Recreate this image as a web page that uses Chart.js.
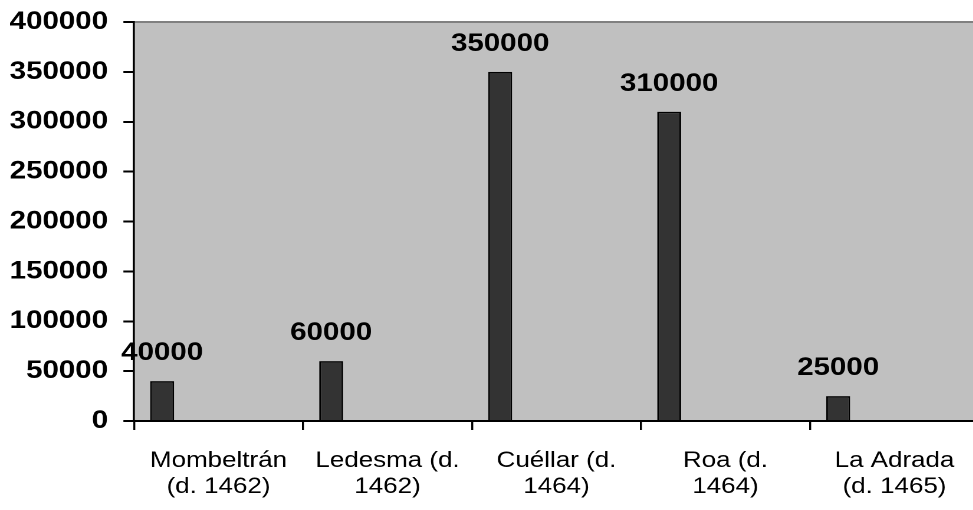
<!DOCTYPE html>
<html lang="es">
<head>
  <meta charset="UTF-8">
  <title>Rentas</title>
  <script src="https://cdn.jsdelivr.net/npm/chart.js"></script>
  <style>
    html, body {
      margin: 0;
      padding: 0;
      background: #fff;
      overflow: hidden;
      width: 973px;
      height: 510px;
    }
    #chart {
      display: block;
    }
  </style>
</head>
<body>
  <!-- the original chart is stretched sideways, so the canvas is shown wider than it is drawn -->
  <canvas id="chart" width="830" height="510" style="width: 979px; height: 510px;"></canvas>
  <script>
    const categories = [
      ['Mombeltrán', '(d. 1462)'],
      ['Ledesma (d.', '1462)'],
      ['Cuéllar (d.', '1464)'],
      ['Roa (d.', '1464)'],
      ['La Adrada', '(d. 1465)']
    ];
    const values = [40000, 60000, 350000, 310000, 25000];
    // two unused series in the source sheet, they only reserve space in each group
    const emptySeries = [null, null, null, null, null];
    const yMin = 0;
    const yMax = 400000;
    const yStep = 50000;

    const FONT = "'Liberation Sans', Arial, sans-serif";

    const plotBackground = {
      id: 'plotBackground',
      beforeDraw(chart) {
        const { ctx, chartArea } = chart;
        ctx.save();
        ctx.fillStyle = '#c0c0c0';
        ctx.fillRect(chartArea.left, chartArea.top, chartArea.right - chartArea.left, chartArea.bottom - chartArea.top);
        ctx.strokeStyle = '#808080';
        ctx.lineWidth = 2;
        ctx.beginPath();
        ctx.moveTo(chartArea.left, chartArea.top);
        ctx.lineTo(chartArea.right, chartArea.top);
        ctx.stroke();
        ctx.restore();
      }
    };

    const valueLabels = {
      id: 'valueLabels',
      afterDatasetsDraw(chart) {
        const { ctx } = chart;
        const meta = chart.getDatasetMeta(0);
        ctx.save();
        ctx.font = `bold 25px ${FONT}`;
        ctx.fillStyle = '#000';
        ctx.textAlign = 'center';
        ctx.textBaseline = 'alphabetic';
        meta.data.forEach((bar, i) => {
          ctx.fillText(String(values[i]), bar.x, bar.y - 21);
        });
        ctx.restore();
      }
    };

    new Chart(document.getElementById('chart'), {
      type: 'bar',
      data: {
        labels: categories,
        datasets: [
          { data: values, backgroundColor: '#333333', borderColor: '#000', borderWidth: 1.5 },
          { data: emptySeries },
          { data: emptySeries }
        ]
      },
      options: {
        responsive: false,
        animation: false,
        devicePixelRatio: 2,
        categoryPercentage: 1.0,
        barPercentage: 0.425,
        layout: { padding: { top: 22, left: 0, right: 0, bottom: 0 } },
        plugins: {
          legend: { display: false },
          tooltip: { enabled: false }
        },
        scales: {
          x: {
            grid: { offset: true, drawOnChartArea: false, color: '#000', lineWidth: 1.7, tickLength: 9 },
            border: { color: '#000', width: 2 },
            ticks: {
              color: '#000',
              font: { family: FONT, size: 22, lineHeight: 1.18 },
              padding: 18,
              maxRotation: 0,
              autoSkip: false
            },
            afterFit(scale) { scale.height = 89; }
          },
          y: {
            min: yMin,
            max: yMax,
            grid: { drawOnChartArea: false, color: '#000', lineWidth: 2, tickLength: 9 },
            border: { color: '#000', width: 1.8 },
            ticks: {
              stepSize: yStep,
              color: '#000',
              font: { family: FONT, size: 25, weight: 'bold', lineHeight: 1 },
              padding: 13,
              callback: v => String(v)
            },
            afterFit(scale) {
              scale.width = 113.6;
              scale.paddingTop = 0;
            }
          }
        }
      },
      plugins: [plotBackground, valueLabels]
    });
  </script>
</body>
</html>
